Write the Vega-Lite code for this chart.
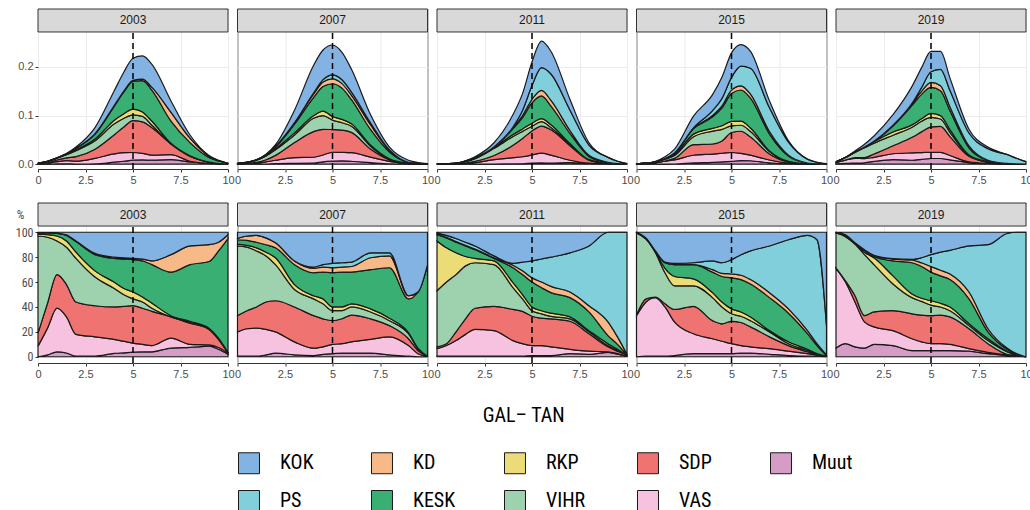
{
"$schema":"https://vega.github.io/schema/vega-lite/v6.json",
"background":"white",
"padding":{"left":14,"top":8,"right":0,"bottom":0},
"data":{"name":"dens"},
"datasets":{
"parties":[{"p":"Muut","rk":1},{"p":"VAS","rk":2},{"p":"SDP","rk":3},{"p":"VIHR","rk":4},{"p":"RKP","rk":5},{"p":"KESK","rk":6},{"p":"KD","rk":7},{"p":"PS","rk":8},{"p":"KOK","rk":9}],
"dens":[
{"yr":2003,"p":"Muut","x":0,"d":0,"s":0},{"yr":2003,"p":"Muut","x":0.5,"d":0.0001,"s":1.5},{"yr":2003,"p":"Muut","x":1,"d":0.0005,"s":4},{"yr":2003,"p":"Muut","x":1.5,"d":0.0007,"s":3},{"yr":2003,"p":"Muut","x":2,"d":0.0002,"s":0.5},{"yr":2003,"p":"Muut","x":3,"d":0.0004,"s":0.5},{"yr":2003,"p":"Muut","x":4,"d":0.004,"s":2.7},{"yr":2003,"p":"Muut","x":4.5,"d":0.006,"s":3.2},{"yr":2003,"p":"Muut","x":5,"d":0.0081,"s":3.7},{"yr":2003,"p":"Muut","x":5.5,"d":0.0087,"s":3.9},{"yr":2003,"p":"Muut","x":6,"d":0.0082,"s":4},{"yr":2003,"p":"Muut","x":7,"d":0.0091,"s":7},{"yr":2003,"p":"Muut","x":8,"d":0.0045,"s":7.5},{"yr":2003,"p":"Muut","x":9,"d":0.0015,"s":8.5},{"yr":2003,"p":"Muut","x":9.5,"d":0.0005,"s":6},{"yr":2003,"p":"Muut","x":10,"d":0,"s":2},
{"yr":2003,"p":"VAS","x":0,"d":0.0002,"s":8.5},{"yr":2003,"p":"VAS","x":0.5,"d":0.0013,"s":21.5},{"yr":2003,"p":"VAS","x":1,"d":0.0046,"s":35},{"yr":2003,"p":"VAS","x":1.5,"d":0.0064,"s":29},{"yr":2003,"p":"VAS","x":2,"d":0.0061,"s":17.5},{"yr":2003,"p":"VAS","x":3,"d":0.0116,"s":15.5},{"yr":2003,"p":"VAS","x":4,"d":0.017,"s":11.3},{"yr":2003,"p":"VAS","x":4.5,"d":0.0175,"s":9.3},{"yr":2003,"p":"VAS","x":5,"d":0.0159,"s":7.3},{"yr":2003,"p":"VAS","x":5.5,"d":0.0136,"s":6.1},{"yr":2003,"p":"VAS","x":6,"d":0.0103,"s":5},{"yr":2003,"p":"VAS","x":7,"d":0.0104,"s":8},{"yr":2003,"p":"VAS","x":8,"d":0.0015,"s":2.5},{"yr":2003,"p":"VAS","x":9,"d":0.0002,"s":1},{"yr":2003,"p":"VAS","x":9.5,"d":0.0001,"s":1.5},{"yr":2003,"p":"VAS","x":10,"d":0,"s":1},
{"yr":2003,"p":"SDP","x":0,"d":0.0002,"s":10.5},{"yr":2003,"p":"SDP","x":0.5,"d":0.0012,"s":20},{"yr":2003,"p":"SDP","x":1,"d":0.0035,"s":27},{"yr":2003,"p":"SDP","x":1.5,"d":0.0057,"s":26},{"yr":2003,"p":"SDP","x":2,"d":0.0091,"s":26},{"yr":2003,"p":"SDP","x":3,"d":0.0188,"s":25},{"yr":2003,"p":"SDP","x":4,"d":0.039,"s":26},{"yr":2003,"p":"SDP","x":4.5,"d":0.0526,"s":28},{"yr":2003,"p":"SDP","x":5,"d":0.0654,"s":30},{"yr":2003,"p":"SDP","x":5.5,"d":0.0647,"s":29},{"yr":2003,"p":"SDP","x":6,"d":0.0564,"s":27.5},{"yr":2003,"p":"SDP","x":7,"d":0.0221,"s":17},{"yr":2003,"p":"SDP","x":8,"d":0.0102,"s":17},{"yr":2003,"p":"SDP","x":9,"d":0.0023,"s":12.5},{"yr":2003,"p":"SDP","x":9.5,"d":0.0005,"s":6.5},{"yr":2003,"p":"SDP","x":10,"d":0,"s":0},
{"yr":2003,"p":"VIHR","x":0,"d":0.0016,"s":78},{"yr":2003,"p":"VIHR","x":0.5,"d":0.0032,"s":53},{"yr":2003,"p":"VIHR","x":1,"d":0.0035,"s":27},{"yr":2003,"p":"VIHR","x":1.5,"d":0.0066,"s":30},{"yr":2003,"p":"VIHR","x":2,"d":0.0123,"s":35},{"yr":2003,"p":"VIHR","x":3,"d":0.0173,"s":23},{"yr":2003,"p":"VIHR","x":4,"d":0.0225,"s":15},{"yr":2003,"p":"VIHR","x":4.5,"d":0.0179,"s":9.5},{"yr":2003,"p":"VIHR","x":5,"d":0.012,"s":5.5},{"yr":2003,"p":"VIHR","x":5.5,"d":0.0112,"s":5},{"yr":2003,"p":"VIHR","x":6,"d":0.0051,"s":2.5},{"yr":2003,"p":"VIHR","x":7,"d":0,"s":0},{"yr":2003,"p":"VIHR","x":8,"d":0.0003,"s":0.5},{"yr":2003,"p":"VIHR","x":9,"d":0.0001,"s":0.5},{"yr":2003,"p":"VIHR","x":9.5,"d":0,"s":0.5},{"yr":2003,"p":"VIHR","x":10,"d":0,"s":0},
{"yr":2003,"p":"RKP","x":0,"d":0,"s":1.5},{"yr":2003,"p":"RKP","x":0.5,"d":0.0001,"s":2},{"yr":2003,"p":"RKP","x":1,"d":0.0005,"s":4},{"yr":2003,"p":"RKP","x":1.5,"d":0.0011,"s":5},{"yr":2003,"p":"RKP","x":2,"d":0.0018,"s":5},{"yr":2003,"p":"RKP","x":3,"d":0.0038,"s":5},{"yr":2003,"p":"RKP","x":4,"d":0.0075,"s":5},{"yr":2003,"p":"RKP","x":4.5,"d":0.0094,"s":5},{"yr":2003,"p":"RKP","x":5,"d":0.012,"s":5.5},{"yr":2003,"p":"RKP","x":5.5,"d":0.0089,"s":4},{"yr":2003,"p":"RKP","x":6,"d":0.0082,"s":4},{"yr":2003,"p":"RKP","x":7,"d":0.0013,"s":1},{"yr":2003,"p":"RKP","x":8,"d":0.0006,"s":1},{"yr":2003,"p":"RKP","x":9,"d":0.0001,"s":0.5},{"yr":2003,"p":"RKP","x":9.5,"d":0,"s":0.5},{"yr":2003,"p":"RKP","x":10,"d":0,"s":0.5},
{"yr":2003,"p":"KESK","x":0,"d":0,"s":1},{"yr":2003,"p":"KESK","x":0.5,"d":0.0001,"s":1.5},{"yr":2003,"p":"KESK","x":1,"d":0.0003,"s":2},{"yr":2003,"p":"KESK","x":1.5,"d":0.001,"s":4.5},{"yr":2003,"p":"KESK","x":2,"d":0.003,"s":8.5},{"yr":2003,"p":"KESK","x":3,"d":0.0098,"s":13},{"yr":2003,"p":"KESK","x":4,"d":0.0285,"s":19},{"yr":2003,"p":"KESK","x":4.5,"d":0.0442,"s":23.5},{"yr":2003,"p":"KESK","x":5,"d":0.0567,"s":26},{"yr":2003,"p":"KESK","x":5.5,"d":0.0647,"s":29},{"yr":2003,"p":"KESK","x":6,"d":0.0636,"s":31},{"yr":2003,"p":"KESK","x":7,"d":0.0455,"s":35},{"yr":2003,"p":"KESK","x":8,"d":0.0273,"s":45.5},{"yr":2003,"p":"KESK","x":9,"d":0.0096,"s":53.5},{"yr":2003,"p":"KESK","x":9.5,"d":0.0056,"s":70},{"yr":2003,"p":"KESK","x":10,"d":0.0018,"s":91.5},
{"yr":2003,"p":"KD","x":0,"d":0,"s":0.2},{"yr":2003,"p":"KD","x":0.5,"d":0,"s":0.2},{"yr":2003,"p":"KD","x":1,"d":0,"s":0.3},{"yr":2003,"p":"KD","x":1.5,"d":0.0001,"s":0.5},{"yr":2003,"p":"KD","x":2,"d":0.0002,"s":0.5},{"yr":2003,"p":"KD","x":3,"d":0.0008,"s":1},{"yr":2003,"p":"KD","x":4,"d":0.0015,"s":1},{"yr":2003,"p":"KD","x":4.5,"d":0.0019,"s":1},{"yr":2003,"p":"KD","x":5,"d":0.0022,"s":1},{"yr":2003,"p":"KD","x":5.5,"d":0.0033,"s":1.5},{"yr":2003,"p":"KD","x":6,"d":0.0062,"s":3},{"yr":2003,"p":"KD","x":7,"d":0.0182,"s":14},{"yr":2003,"p":"KD","x":8,"d":0.009,"s":15},{"yr":2003,"p":"KD","x":9,"d":0.0024,"s":13.5},{"yr":2003,"p":"KD","x":9.5,"d":0.0006,"s":7},{"yr":2003,"p":"KD","x":10,"d":0.0001,"s":3},
{"yr":2003,"p":"KOK","x":0,"d":0,"s":0.3},{"yr":2003,"p":"KOK","x":0.5,"d":0,"s":0.3},{"yr":2003,"p":"KOK","x":1,"d":0.0001,"s":0.7},{"yr":2003,"p":"KOK","x":1.5,"d":0.0004,"s":2},{"yr":2003,"p":"KOK","x":2,"d":0.0025,"s":7},{"yr":2003,"p":"KOK","x":3,"d":0.0128,"s":17},{"yr":2003,"p":"KOK","x":4,"d":0.03,"s":20},{"yr":2003,"p":"KOK","x":4.5,"d":0.0385,"s":20.5},{"yr":2003,"p":"KOK","x":5,"d":0.0458,"s":21},{"yr":2003,"p":"KOK","x":5.5,"d":0.0479,"s":21.5},{"yr":2003,"p":"KOK","x":6,"d":0.0472,"s":23},{"yr":2003,"p":"KOK","x":7,"d":0.0234,"s":18},{"yr":2003,"p":"KOK","x":8,"d":0.0066,"s":11},{"yr":2003,"p":"KOK","x":9,"d":0.0018,"s":10},{"yr":2003,"p":"KOK","x":9.5,"d":0.0006,"s":8},{"yr":2003,"p":"KOK","x":10,"d":0,"s":2},
{"yr":2007,"p":"Muut","x":0,"d":0,"s":0.5},{"yr":2007,"p":"Muut","x":0.5,"d":0,"s":0.5},{"yr":2007,"p":"Muut","x":1,"d":0,"s":0.5},{"yr":2007,"p":"Muut","x":1.5,"d":0.0003,"s":1.5},{"yr":2007,"p":"Muut","x":2,"d":0.0012,"s":3},{"yr":2007,"p":"Muut","x":3,"d":0.0017,"s":1.5},{"yr":2007,"p":"Muut","x":4,"d":0.002,"s":1},{"yr":2007,"p":"Muut","x":4.5,"d":0.0047,"s":2},{"yr":2007,"p":"Muut","x":5,"d":0.0061,"s":2.5},{"yr":2007,"p":"Muut","x":5.5,"d":0.0069,"s":3},{"yr":2007,"p":"Muut","x":6,"d":0.0059,"s":3},{"yr":2007,"p":"Muut","x":7,"d":0.0031,"s":3},{"yr":2007,"p":"Muut","x":8,"d":0.0005,"s":1.5},{"yr":2007,"p":"Muut","x":9,"d":0,"s":0.5},{"yr":2007,"p":"Muut","x":9.5,"d":0,"s":0},{"yr":2007,"p":"Muut","x":10,"d":0,"s":0},
{"yr":2007,"p":"VAS","x":0,"d":0.0003,"s":19.5},{"yr":2007,"p":"VAS","x":0.5,"d":0.0009,"s":22},{"yr":2007,"p":"VAS","x":1,"d":0.0021,"s":22.5},{"yr":2007,"p":"VAS","x":1.5,"d":0.0042,"s":20.5},{"yr":2007,"p":"VAS","x":2,"d":0.0068,"s":17},{"yr":2007,"p":"VAS","x":3,"d":0.0117,"s":10.5},{"yr":2007,"p":"VAS","x":4,"d":0.0122,"s":6},{"yr":2007,"p":"VAS","x":4.5,"d":0.0141,"s":6},{"yr":2007,"p":"VAS","x":5,"d":0.0184,"s":7.5},{"yr":2007,"p":"VAS","x":5.5,"d":0.0173,"s":7.5},{"yr":2007,"p":"VAS","x":6,"d":0.0176,"s":9},{"yr":2007,"p":"VAS","x":7,"d":0.0112,"s":11},{"yr":2007,"p":"VAS","x":8,"d":0.0051,"s":14.5},{"yr":2007,"p":"VAS","x":9,"d":0.0007,"s":8.5},{"yr":2007,"p":"VAS","x":9.5,"d":0.0001,"s":2.5},{"yr":2007,"p":"VAS","x":10,"d":0,"s":0.5},
{"yr":2007,"p":"SDP","x":0,"d":0.0002,"s":13},{"yr":2007,"p":"SDP","x":0.5,"d":0.0006,"s":14.5},{"yr":2007,"p":"SDP","x":1,"d":0.0016,"s":17},{"yr":2007,"p":"SDP","x":1.5,"d":0.0045,"s":22},{"yr":2007,"p":"SDP","x":2,"d":0.01,"s":25},{"yr":2007,"p":"SDP","x":3,"d":0.0311,"s":28},{"yr":2007,"p":"SDP","x":4,"d":0.0528,"s":26},{"yr":2007,"p":"SDP","x":4.5,"d":0.0529,"s":22.5},{"yr":2007,"p":"SDP","x":5,"d":0.0466,"s":19},{"yr":2007,"p":"SDP","x":5.5,"d":0.046,"s":20},{"yr":2007,"p":"SDP","x":6,"d":0.0419,"s":21.5},{"yr":2007,"p":"SDP","x":7,"d":0.0168,"s":16.5},{"yr":2007,"p":"SDP","x":8,"d":0.0032,"s":9},{"yr":2007,"p":"SDP","x":9,"d":0.0004,"s":5.5},{"yr":2007,"p":"SDP","x":9.5,"d":0.0001,"s":2.5},{"yr":2007,"p":"SDP","x":10,"d":0,"s":0},
{"yr":2007,"p":"VIHR","x":0,"d":0.0008,"s":56},{"yr":2007,"p":"VIHR","x":0.5,"d":0.002,"s":51},{"yr":2007,"p":"VIHR","x":1,"d":0.0043,"s":45},{"yr":2007,"p":"VIHR","x":1.5,"d":0.0076,"s":37},{"yr":2007,"p":"VIHR","x":2,"d":0.0116,"s":29},{"yr":2007,"p":"VIHR","x":3,"d":0.0155,"s":14},{"yr":2007,"p":"VIHR","x":4,"d":0.0274,"s":13.5},{"yr":2007,"p":"VIHR","x":4.5,"d":0.0282,"s":12},{"yr":2007,"p":"VIHR","x":5,"d":0.0196,"s":8},{"yr":2007,"p":"VIHR","x":5.5,"d":0.015,"s":6.5},{"yr":2007,"p":"VIHR","x":6,"d":0.0127,"s":6.5},{"yr":2007,"p":"VIHR","x":7,"d":0.0056,"s":5.5},{"yr":2007,"p":"VIHR","x":8,"d":0.0014,"s":4},{"yr":2007,"p":"VIHR","x":9,"d":0.0003,"s":4},{"yr":2007,"p":"VIHR","x":9.5,"d":0,"s":1.5},{"yr":2007,"p":"VIHR","x":10,"d":0,"s":0},
{"yr":2007,"p":"RKP","x":0,"d":0,"s":1.5},{"yr":2007,"p":"RKP","x":0.5,"d":0.0001,"s":1.5},{"yr":2007,"p":"RKP","x":1,"d":0.0002,"s":2.5},{"yr":2007,"p":"RKP","x":1.5,"d":0.0006,"s":3},{"yr":2007,"p":"RKP","x":2,"d":0.0022,"s":5.5},{"yr":2007,"p":"RKP","x":3,"d":0.0044,"s":4},{"yr":2007,"p":"RKP","x":4,"d":0.0051,"s":2.5},{"yr":2007,"p":"RKP","x":4.5,"d":0.0094,"s":4},{"yr":2007,"p":"RKP","x":5,"d":0.0074,"s":3},{"yr":2007,"p":"RKP","x":5.5,"d":0.0069,"s":3},{"yr":2007,"p":"RKP","x":6,"d":0.0049,"s":2.5},{"yr":2007,"p":"RKP","x":7,"d":0.0026,"s":2.5},{"yr":2007,"p":"RKP","x":8,"d":0.0007,"s":2},{"yr":2007,"p":"RKP","x":9,"d":0.0001,"s":1},{"yr":2007,"p":"RKP","x":9.5,"d":0,"s":0.5},{"yr":2007,"p":"RKP","x":10,"d":0,"s":0},
{"yr":2007,"p":"KESK","x":0,"d":0.0001,"s":3.5},{"yr":2007,"p":"KESK","x":0.5,"d":0.0002,"s":4},{"yr":2007,"p":"KESK","x":1,"d":0.0004,"s":4.5},{"yr":2007,"p":"KESK","x":1.5,"d":0.0012,"s":6},{"yr":2007,"p":"KESK","x":2,"d":0.0032,"s":8},{"yr":2007,"p":"KESK","x":3,"d":0.0178,"s":16},{"yr":2007,"p":"KESK","x":4,"d":0.0376,"s":18.5},{"yr":2007,"p":"KESK","x":4.5,"d":0.0505,"s":21.5},{"yr":2007,"p":"KESK","x":5,"d":0.0674,"s":27.5},{"yr":2007,"p":"KESK","x":5.5,"d":0.0644,"s":28},{"yr":2007,"p":"KESK","x":6,"d":0.0497,"s":25.5},{"yr":2007,"p":"KESK","x":7,"d":0.0321,"s":31.5},{"yr":2007,"p":"KESK","x":8,"d":0.0142,"s":40.5},{"yr":2007,"p":"KESK","x":9,"d":0.0022,"s":27},{"yr":2007,"p":"KESK","x":9.5,"d":0.0015,"s":45},{"yr":2007,"p":"KESK","x":10,"d":0.0009,"s":73.5},
{"yr":2007,"p":"KD","x":0,"d":0,"s":1},{"yr":2007,"p":"KD","x":0.5,"d":0.0001,"s":3.5},{"yr":2007,"p":"KD","x":1,"d":0.0005,"s":5.5},{"yr":2007,"p":"KD","x":1.5,"d":0.0011,"s":5.5},{"yr":2007,"p":"KD","x":2,"d":0.0016,"s":4},{"yr":2007,"p":"KD","x":3,"d":0.0033,"s":3},{"yr":2007,"p":"KD","x":4,"d":0.0071,"s":3.5},{"yr":2007,"p":"KD","x":4.5,"d":0.0094,"s":4},{"yr":2007,"p":"KD","x":5,"d":0.0098,"s":4},{"yr":2007,"p":"KD","x":5.5,"d":0.0092,"s":4},{"yr":2007,"p":"KD","x":6,"d":0.0088,"s":4.5},{"yr":2007,"p":"KD","x":7,"d":0.0097,"s":9.5},{"yr":2007,"p":"KD","x":8,"d":0.0033,"s":9.5},{"yr":2007,"p":"KD","x":9,"d":0.0002,"s":2.5},{"yr":2007,"p":"KD","x":9.5,"d":0,"s":0},{"yr":2007,"p":"KD","x":10,"d":0,"s":0},
{"yr":2007,"p":"PS","x":0,"d":0,"s":0},{"yr":2007,"p":"PS","x":0.5,"d":0,"s":0},{"yr":2007,"p":"PS","x":1,"d":0,"s":0},{"yr":2007,"p":"PS","x":1.5,"d":0,"s":0},{"yr":2007,"p":"PS","x":2,"d":0,"s":0},{"yr":2007,"p":"PS","x":3,"d":0,"s":0},{"yr":2007,"p":"PS","x":4,"d":0.002,"s":1},{"yr":2007,"p":"PS","x":4.5,"d":0.0047,"s":2},{"yr":2007,"p":"PS","x":5,"d":0.0086,"s":3.5},{"yr":2007,"p":"PS","x":5.5,"d":0.0081,"s":3.5},{"yr":2007,"p":"PS","x":6,"d":0.0068,"s":3.5},{"yr":2007,"p":"PS","x":7,"d":0.0041,"s":4},{"yr":2007,"p":"PS","x":8,"d":0.0009,"s":2.5},{"yr":2007,"p":"PS","x":9,"d":0,"s":0},{"yr":2007,"p":"PS","x":9.5,"d":0,"s":0},{"yr":2007,"p":"PS","x":10,"d":0,"s":0},
{"yr":2007,"p":"KOK","x":0,"d":0.0001,"s":5},{"yr":2007,"p":"KOK","x":0.5,"d":0.0001,"s":3},{"yr":2007,"p":"KOK","x":1,"d":0.0002,"s":2.5},{"yr":2007,"p":"KOK","x":1.5,"d":0.0009,"s":4.5},{"yr":2007,"p":"KOK","x":2,"d":0.0034,"s":8.5},{"yr":2007,"p":"KOK","x":3,"d":0.0255,"s":23},{"yr":2007,"p":"KOK","x":4,"d":0.0568,"s":28},{"yr":2007,"p":"KOK","x":4.5,"d":0.0611,"s":26},{"yr":2007,"p":"KOK","x":5,"d":0.0613,"s":25},{"yr":2007,"p":"KOK","x":5.5,"d":0.0564,"s":24.5},{"yr":2007,"p":"KOK","x":6,"d":0.0468,"s":24},{"yr":2007,"p":"KOK","x":7,"d":0.0168,"s":16.5},{"yr":2007,"p":"KOK","x":8,"d":0.0058,"s":16.5},{"yr":2007,"p":"KOK","x":9,"d":0.0041,"s":51},{"yr":2007,"p":"KOK","x":9.5,"d":0.0016,"s":48},{"yr":2007,"p":"KOK","x":10,"d":0.0003,"s":26},
{"yr":2011,"p":"Muut","x":0,"d":0,"s":0.5},{"yr":2011,"p":"Muut","x":0.5,"d":0,"s":0.5},{"yr":2011,"p":"Muut","x":1,"d":0,"s":0.5},{"yr":2011,"p":"Muut","x":1.5,"d":0,"s":0.5},{"yr":2011,"p":"Muut","x":2,"d":0.0001,"s":0.5},{"yr":2011,"p":"Muut","x":3,"d":0.0002,"s":0.5},{"yr":2011,"p":"Muut","x":4,"d":0.0005,"s":0.5},{"yr":2011,"p":"Muut","x":4.5,"d":0.0007,"s":0.5},{"yr":2011,"p":"Muut","x":5,"d":0.0021,"s":1},{"yr":2011,"p":"Muut","x":5.5,"d":0.0025,"s":1},{"yr":2011,"p":"Muut","x":6,"d":0.0023,"s":1},{"yr":2011,"p":"Muut","x":7,"d":0.0033,"s":2.5},{"yr":2011,"p":"Muut","x":8,"d":0.0009,"s":2},{"yr":2011,"p":"Muut","x":9,"d":0.0005,"s":3.5},{"yr":2011,"p":"Muut","x":9.5,"d":0.0001,"s":2},{"yr":2011,"p":"Muut","x":10,"d":0,"s":0.5},
{"yr":2011,"p":"VAS","x":0,"d":0,"s":6},{"yr":2011,"p":"VAS","x":0.5,"d":0.0001,"s":8.5},{"yr":2011,"p":"VAS","x":1,"d":0.0003,"s":12.5},{"yr":2011,"p":"VAS","x":1.5,"d":0.0012,"s":17.5},{"yr":2011,"p":"VAS","x":2,"d":0.0032,"s":21.5},{"yr":2011,"p":"VAS","x":3,"d":0.009,"s":20.5},{"yr":2011,"p":"VAS","x":4,"d":0.0128,"s":12.5},{"yr":2011,"p":"VAS","x":4.5,"d":0.0145,"s":10},{"yr":2011,"p":"VAS","x":5,"d":0.0168,"s":8},{"yr":2011,"p":"VAS","x":5.5,"d":0.0202,"s":8},{"yr":2011,"p":"VAS","x":6,"d":0.0162,"s":7},{"yr":2011,"p":"VAS","x":7,"d":0.0047,"s":3.5},{"yr":2011,"p":"VAS","x":8,"d":0.0011,"s":2.5},{"yr":2011,"p":"VAS","x":9,"d":0.0001,"s":0.5},{"yr":2011,"p":"VAS","x":9.5,"d":0,"s":0.5},{"yr":2011,"p":"VAS","x":10,"d":0,"s":0},
{"yr":2011,"p":"SDP","x":0,"d":0,"s":1.5},{"yr":2011,"p":"SDP","x":0.5,"d":0,"s":1.5},{"yr":2011,"p":"SDP","x":1,"d":0.0001,"s":7},{"yr":2011,"p":"SDP","x":1.5,"d":0.0009,"s":12.5},{"yr":2011,"p":"SDP","x":2,"d":0.0026,"s":17},{"yr":2011,"p":"SDP","x":3,"d":0.0086,"s":19.5},{"yr":2011,"p":"SDP","x":4,"d":0.0255,"s":25},{"yr":2011,"p":"SDP","x":4.5,"d":0.0377,"s":26},{"yr":2011,"p":"SDP","x":5,"d":0.0494,"s":23.5},{"yr":2011,"p":"SDP","x":5.5,"d":0.0557,"s":22},{"yr":2011,"p":"SDP","x":6,"d":0.0522,"s":22.5},{"yr":2011,"p":"SDP","x":7,"d":0.0299,"s":22.5},{"yr":2011,"p":"SDP","x":8,"d":0.0062,"s":14},{"yr":2011,"p":"SDP","x":9,"d":0.0006,"s":4},{"yr":2011,"p":"SDP","x":9.5,"d":0.0001,"s":2},{"yr":2011,"p":"SDP","x":10,"d":0,"s":1},
{"yr":2011,"p":"VIHR","x":0,"d":0.0002,"s":45},{"yr":2011,"p":"VIHR","x":0.5,"d":0.0005,"s":49.5},{"yr":2011,"p":"VIHR","x":1,"d":0.0009,"s":46},{"yr":2011,"p":"VIHR","x":1.5,"d":0.003,"s":42.5},{"yr":2011,"p":"VIHR","x":2,"d":0.0055,"s":36.5},{"yr":2011,"p":"VIHR","x":3,"d":0.0147,"s":33.5},{"yr":2011,"p":"VIHR","x":4,"d":0.0179,"s":17.5},{"yr":2011,"p":"VIHR","x":4.5,"d":0.0145,"s":10},{"yr":2011,"p":"VIHR","x":5,"d":0.0095,"s":4.5},{"yr":2011,"p":"VIHR","x":5.5,"d":0.0089,"s":3.5},{"yr":2011,"p":"VIHR","x":6,"d":0.0046,"s":2},{"yr":2011,"p":"VIHR","x":7,"d":0.0027,"s":2},{"yr":2011,"p":"VIHR","x":8,"d":0.0007,"s":1.5},{"yr":2011,"p":"VIHR","x":9,"d":0.0001,"s":1},{"yr":2011,"p":"VIHR","x":9.5,"d":0,"s":0.5},{"yr":2011,"p":"VIHR","x":10,"d":0,"s":0},
{"yr":2011,"p":"RKP","x":0,"d":0.0002,"s":40},{"yr":2011,"p":"RKP","x":0.5,"d":0.0003,"s":27.5},{"yr":2011,"p":"RKP","x":1,"d":0.0004,"s":17.5},{"yr":2011,"p":"RKP","x":1.5,"d":0.0005,"s":7.5},{"yr":2011,"p":"RKP","x":2,"d":0.0005,"s":3.5},{"yr":2011,"p":"RKP","x":3,"d":0.0013,"s":3},{"yr":2011,"p":"RKP","x":4,"d":0.0041,"s":4},{"yr":2011,"p":"RKP","x":4.5,"d":0.0051,"s":3.5},{"yr":2011,"p":"RKP","x":5,"d":0.0063,"s":3},{"yr":2011,"p":"RKP","x":5.5,"d":0.0063,"s":2.5},{"yr":2011,"p":"RKP","x":6,"d":0.0058,"s":2.5},{"yr":2011,"p":"RKP","x":7,"d":0.002,"s":1.5},{"yr":2011,"p":"RKP","x":8,"d":0.0004,"s":1},{"yr":2011,"p":"RKP","x":9,"d":0.0002,"s":1.5},{"yr":2011,"p":"RKP","x":9.5,"d":0.0001,"s":1},{"yr":2011,"p":"RKP","x":10,"d":0,"s":0},
{"yr":2011,"p":"KESK","x":0,"d":0,"s":5},{"yr":2011,"p":"KESK","x":0.5,"d":0.0001,"s":8},{"yr":2011,"p":"KESK","x":1,"d":0.0002,"s":8.5},{"yr":2011,"p":"KESK","x":1.5,"d":0.0006,"s":8.5},{"yr":2011,"p":"KESK","x":2,"d":0.0011,"s":7},{"yr":2011,"p":"KESK","x":3,"d":0.0009,"s":2},{"yr":2011,"p":"KESK","x":4,"d":0.0122,"s":12},{"yr":2011,"p":"KESK","x":4.5,"d":0.0232,"s":16},{"yr":2011,"p":"KESK","x":5,"d":0.042,"s":20},{"yr":2011,"p":"KESK","x":5.5,"d":0.0468,"s":18.5},{"yr":2011,"p":"KESK","x":6,"d":0.0383,"s":16.5},{"yr":2011,"p":"KESK","x":7,"d":0.0206,"s":15.5},{"yr":2011,"p":"KESK","x":8,"d":0.0066,"s":15},{"yr":2011,"p":"KESK","x":9,"d":0.0009,"s":6.5},{"yr":2011,"p":"KESK","x":9.5,"d":0.0002,"s":4},{"yr":2011,"p":"KESK","x":10,"d":0,"s":0},
{"yr":2011,"p":"KD","x":0,"d":0,"s":0.5},{"yr":2011,"p":"KD","x":0.5,"d":0,"s":0.5},{"yr":2011,"p":"KD","x":1,"d":0,"s":0.5},{"yr":2011,"p":"KD","x":1.5,"d":0,"s":0.5},{"yr":2011,"p":"KD","x":2,"d":0.0001,"s":0.5},{"yr":2011,"p":"KD","x":3,"d":0.0002,"s":0.5},{"yr":2011,"p":"KD","x":4,"d":0.002,"s":2},{"yr":2011,"p":"KD","x":4.5,"d":0.0044,"s":3},{"yr":2011,"p":"KD","x":5,"d":0.0074,"s":3.5},{"yr":2011,"p":"KD","x":5.5,"d":0.0114,"s":4.5},{"yr":2011,"p":"KD","x":6,"d":0.0116,"s":5},{"yr":2011,"p":"KD","x":7,"d":0.006,"s":4.5},{"yr":2011,"p":"KD","x":8,"d":0.0022,"s":5},{"yr":2011,"p":"KD","x":9,"d":0.0015,"s":11},{"yr":2011,"p":"KD","x":9.5,"d":0.0004,"s":6},{"yr":2011,"p":"KD","x":10,"d":0,"s":0.5},
{"yr":2011,"p":"PS","x":0,"d":0,"s":1},{"yr":2011,"p":"PS","x":0.5,"d":0,"s":1.5},{"yr":2011,"p":"PS","x":1,"d":0,"s":2.5},{"yr":2011,"p":"PS","x":1.5,"d":0.0002,"s":2.5},{"yr":2011,"p":"PS","x":2,"d":0.0004,"s":2.5},{"yr":2011,"p":"PS","x":3,"d":0.0007,"s":1.5},{"yr":2011,"p":"PS","x":4,"d":0.0015,"s":1.5},{"yr":2011,"p":"PS","x":4.5,"d":0.0102,"s":7},{"yr":2011,"p":"PS","x":5,"d":0.0284,"s":13.5},{"yr":2011,"p":"PS","x":5.5,"d":0.0468,"s":18.5},{"yr":2011,"p":"PS","x":6,"d":0.0545,"s":23.5},{"yr":2011,"p":"PS","x":7,"d":0.0419,"s":31.5},{"yr":2011,"p":"PS","x":8,"d":0.0211,"s":48},{"yr":2011,"p":"PS","x":9,"d":0.0101,"s":72},{"yr":2011,"p":"PS","x":9.5,"d":0.005,"s":84},{"yr":2011,"p":"PS","x":10,"d":0.001,"s":98},
{"yr":2011,"p":"KOK","x":0,"d":0,"s":0.5},{"yr":2011,"p":"KOK","x":0.5,"d":0,"s":2.5},{"yr":2011,"p":"KOK","x":1,"d":0.0001,"s":5},{"yr":2011,"p":"KOK","x":1.5,"d":0.0006,"s":8},{"yr":2011,"p":"KOK","x":2,"d":0.0017,"s":11},{"yr":2011,"p":"KOK","x":3,"d":0.0084,"s":19},{"yr":2011,"p":"KOK","x":4,"d":0.0255,"s":25},{"yr":2011,"p":"KOK","x":4.5,"d":0.0348,"s":24},{"yr":2011,"p":"KOK","x":5,"d":0.0483,"s":23},{"yr":2011,"p":"KOK","x":5.5,"d":0.0544,"s":21.5},{"yr":2011,"p":"KOK","x":6,"d":0.0464,"s":20},{"yr":2011,"p":"KOK","x":7,"d":0.0219,"s":16.5},{"yr":2011,"p":"KOK","x":8,"d":0.0048,"s":11},{"yr":2011,"p":"KOK","x":9,"d":0,"s":0},{"yr":2011,"p":"KOK","x":9.5,"d":0,"s":0},{"yr":2011,"p":"KOK","x":10,"d":0,"s":0},
{"yr":2015,"p":"Muut","x":0,"d":0,"s":0},{"yr":2015,"p":"Muut","x":0.5,"d":0,"s":0.5},{"yr":2015,"p":"Muut","x":1,"d":0,"s":0.5},{"yr":2015,"p":"Muut","x":1.5,"d":0.0001,"s":0.5},{"yr":2015,"p":"Muut","x":2,"d":0.0003,"s":1},{"yr":2015,"p":"Muut","x":3,"d":0.0025,"s":2.5},{"yr":2015,"p":"Muut","x":4,"d":0.0036,"s":2.5},{"yr":2015,"p":"Muut","x":4.5,"d":0.0045,"s":2.5},{"yr":2015,"p":"Muut","x":5,"d":0.0057,"s":2.5},{"yr":2015,"p":"Muut","x":5.5,"d":0.0074,"s":3},{"yr":2015,"p":"Muut","x":6,"d":0.007,"s":3},{"yr":2015,"p":"Muut","x":7,"d":0.0026,"s":2},{"yr":2015,"p":"Muut","x":8,"d":0.0005,"s":1},{"yr":2015,"p":"Muut","x":9,"d":0.0001,"s":0.5},{"yr":2015,"p":"Muut","x":9.5,"d":0,"s":0.5},{"yr":2015,"p":"Muut","x":10,"d":0,"s":0},
{"yr":2015,"p":"VAS","x":0,"d":0.0002,"s":33},{"yr":2015,"p":"VAS","x":0.5,"d":0.0009,"s":43.5},{"yr":2015,"p":"VAS","x":1,"d":0.0028,"s":47},{"yr":2015,"p":"VAS","x":1.5,"d":0.0059,"s":39.5},{"yr":2015,"p":"VAS","x":2,"d":0.0084,"s":27},{"yr":2015,"p":"VAS","x":3,"d":0.0158,"s":16},{"yr":2015,"p":"VAS","x":4,"d":0.0172,"s":12},{"yr":2015,"p":"VAS","x":4.5,"d":0.0179,"s":10},{"yr":2015,"p":"VAS","x":5,"d":0.0183,"s":8},{"yr":2015,"p":"VAS","x":5.5,"d":0.0148,"s":6},{"yr":2015,"p":"VAS","x":6,"d":0.0116,"s":5},{"yr":2015,"p":"VAS","x":7,"d":0.0059,"s":4.5},{"yr":2015,"p":"VAS","x":8,"d":0.0017,"s":3.5},{"yr":2015,"p":"VAS","x":9,"d":0.0002,"s":2},{"yr":2015,"p":"VAS","x":9.5,"d":0,"s":1},{"yr":2015,"p":"VAS","x":10,"d":0,"s":0.5},
{"yr":2015,"p":"SDP","x":0,"d":0,"s":0.5},{"yr":2015,"p":"SDP","x":0.5,"d":0.0001,"s":2.5},{"yr":2015,"p":"SDP","x":1,"d":0,"s":0.5},{"yr":2015,"p":"SDP","x":1.5,"d":0.0004,"s":2.5},{"yr":2015,"p":"SDP","x":2,"d":0.0031,"s":10},{"yr":2015,"p":"SDP","x":3,"d":0.0218,"s":22},{"yr":2015,"p":"SDP","x":4,"d":0.0207,"s":14.5},{"yr":2015,"p":"SDP","x":4.5,"d":0.0251,"s":14},{"yr":2015,"p":"SDP","x":5,"d":0.0412,"s":18},{"yr":2015,"p":"SDP","x":5.5,"d":0.0455,"s":18.5},{"yr":2015,"p":"SDP","x":6,"d":0.0371,"s":16},{"yr":2015,"p":"SDP","x":7,"d":0.0124,"s":9.5},{"yr":2015,"p":"SDP","x":8,"d":0.0022,"s":4.5},{"yr":2015,"p":"SDP","x":9,"d":0.0002,"s":1.5},{"yr":2015,"p":"SDP","x":9.5,"d":0,"s":0},{"yr":2015,"p":"SDP","x":10,"d":0,"s":0},
{"yr":2015,"p":"VIHR","x":0,"d":0.0003,"s":66},{"yr":2015,"p":"VIHR","x":0.5,"d":0.001,"s":48},{"yr":2015,"p":"VIHR","x":1,"d":0.0021,"s":35.5},{"yr":2015,"p":"VIHR","x":1.5,"d":0.0038,"s":25},{"yr":2015,"p":"VIHR","x":2,"d":0.0059,"s":19},{"yr":2015,"p":"VIHR","x":3,"d":0.0163,"s":16.5},{"yr":2015,"p":"VIHR","x":4,"d":0.0265,"s":18.5},{"yr":2015,"p":"VIHR","x":4.5,"d":0.0242,"s":13.5},{"yr":2015,"p":"VIHR","x":5,"d":0.0137,"s":6},{"yr":2015,"p":"VIHR","x":5.5,"d":0.0123,"s":5},{"yr":2015,"p":"VIHR","x":6,"d":0.0116,"s":5},{"yr":2015,"p":"VIHR","x":7,"d":0.0052,"s":4},{"yr":2015,"p":"VIHR","x":8,"d":0.0007,"s":1.5},{"yr":2015,"p":"VIHR","x":9,"d":0.0001,"s":1},{"yr":2015,"p":"VIHR","x":9.5,"d":0,"s":0.5},{"yr":2015,"p":"VIHR","x":10,"d":0,"s":0},
{"yr":2015,"p":"RKP","x":0,"d":0,"s":0.2},{"yr":2015,"p":"RKP","x":0.5,"d":0,"s":0.5},{"yr":2015,"p":"RKP","x":1,"d":0,"s":0.5},{"yr":2015,"p":"RKP","x":1.5,"d":0.0005,"s":3.5},{"yr":2015,"p":"RKP","x":2,"d":0.0023,"s":7.5},{"yr":2015,"p":"RKP","x":3,"d":0.0054,"s":5.5},{"yr":2015,"p":"RKP","x":4,"d":0.0057,"s":4},{"yr":2015,"p":"RKP","x":4.5,"d":0.0072,"s":4},{"yr":2015,"p":"RKP","x":5,"d":0.0092,"s":4},{"yr":2015,"p":"RKP","x":5.5,"d":0.0086,"s":3.5},{"yr":2015,"p":"RKP","x":6,"d":0.007,"s":3},{"yr":2015,"p":"RKP","x":7,"d":0.0013,"s":1},{"yr":2015,"p":"RKP","x":8,"d":0.0007,"s":1.5},{"yr":2015,"p":"RKP","x":9,"d":0.0001,"s":1},{"yr":2015,"p":"RKP","x":9.5,"d":0,"s":0.5},{"yr":2015,"p":"RKP","x":10,"d":0,"s":0},
{"yr":2015,"p":"KESK","x":0,"d":0,"s":0.1},{"yr":2015,"p":"KESK","x":0.5,"d":0,"s":0.2},{"yr":2015,"p":"KESK","x":1,"d":0.0001,"s":1},{"yr":2015,"p":"KESK","x":1.5,"d":0.0007,"s":4.5},{"yr":2015,"p":"KESK","x":2,"d":0.0029,"s":9.5},{"yr":2015,"p":"KESK","x":3,"d":0.0114,"s":11.5},{"yr":2015,"p":"KESK","x":4,"d":0.0236,"s":16.5},{"yr":2015,"p":"KESK","x":4.5,"d":0.0367,"s":20.5},{"yr":2015,"p":"KESK","x":5,"d":0.0573,"s":25},{"yr":2015,"p":"KESK","x":5.5,"d":0.064,"s":26},{"yr":2015,"p":"KESK","x":6,"d":0.0615,"s":26.5},{"yr":2015,"p":"KESK","x":7,"d":0.0345,"s":26.5},{"yr":2015,"p":"KESK","x":8,"d":0.011,"s":23},{"yr":2015,"p":"KESK","x":9,"d":0.0013,"s":12.5},{"yr":2015,"p":"KESK","x":9.5,"d":0.0003,"s":6.5},{"yr":2015,"p":"KESK","x":10,"d":0,"s":0.5},
{"yr":2015,"p":"KD","x":0,"d":0,"s":0},{"yr":2015,"p":"KD","x":0.5,"d":0,"s":0.1},{"yr":2015,"p":"KD","x":1,"d":0,"s":0},{"yr":2015,"p":"KD","x":1.5,"d":0,"s":0},{"yr":2015,"p":"KD","x":2,"d":0,"s":0},{"yr":2015,"p":"KD","x":3,"d":0,"s":0},{"yr":2015,"p":"KD","x":4,"d":0.0029,"s":2},{"yr":2015,"p":"KD","x":4.5,"d":0.0045,"s":2.5},{"yr":2015,"p":"KD","x":5,"d":0.0069,"s":3},{"yr":2015,"p":"KD","x":5.5,"d":0.0086,"s":3.5},{"yr":2015,"p":"KD","x":6,"d":0.0081,"s":3.5},{"yr":2015,"p":"KD","x":7,"d":0.0052,"s":4},{"yr":2015,"p":"KD","x":8,"d":0.0017,"s":3.5},{"yr":2015,"p":"KD","x":9,"d":0.0003,"s":2.5},{"yr":2015,"p":"KD","x":9.5,"d":0.0001,"s":1.5},{"yr":2015,"p":"KD","x":10,"d":0,"s":0.5},
{"yr":2015,"p":"PS","x":0,"d":0,"s":0.1},{"yr":2015,"p":"PS","x":0.5,"d":0,"s":0.2},{"yr":2015,"p":"PS","x":1,"d":0,"s":0},{"yr":2015,"p":"PS","x":1.5,"d":0.0001,"s":0.5},{"yr":2015,"p":"PS","x":2,"d":0.0003,"s":1},{"yr":2015,"p":"PS","x":3,"d":0.0015,"s":1.5},{"yr":2015,"p":"PS","x":4,"d":0.01,"s":7},{"yr":2015,"p":"PS","x":4.5,"d":0.0152,"s":8.5},{"yr":2015,"p":"PS","x":5,"d":0.0263,"s":11.5},{"yr":2015,"p":"PS","x":5.5,"d":0.0406,"s":16.5},{"yr":2015,"p":"PS","x":6,"d":0.0534,"s":23},{"yr":2015,"p":"PS","x":7,"d":0.0488,"s":37.5},{"yr":2015,"p":"PS","x":8,"d":0.0266,"s":55.5},{"yr":2015,"p":"PS","x":9,"d":0.0077,"s":76.5},{"yr":2015,"p":"PS","x":9.5,"d":0.0033,"s":83.5},{"yr":2015,"p":"PS","x":10,"d":0.0002,"s":23.5},
{"yr":2015,"p":"KOK","x":0,"d":0,"s":0.1},{"yr":2015,"p":"KOK","x":0.5,"d":0.0001,"s":4.5},{"yr":2015,"p":"KOK","x":1,"d":0.0009,"s":15},{"yr":2015,"p":"KOK","x":1.5,"d":0.0036,"s":24},{"yr":2015,"p":"KOK","x":2,"d":0.0078,"s":25},{"yr":2015,"p":"KOK","x":3,"d":0.0243,"s":24.5},{"yr":2015,"p":"KOK","x":4,"d":0.0329,"s":23},{"yr":2015,"p":"KOK","x":4.5,"d":0.0439,"s":24.5},{"yr":2015,"p":"KOK","x":5,"d":0.0504,"s":22},{"yr":2015,"p":"KOK","x":5.5,"d":0.0443,"s":18},{"yr":2015,"p":"KOK","x":6,"d":0.0348,"s":15},{"yr":2015,"p":"KOK","x":7,"d":0.0143,"s":11},{"yr":2015,"p":"KOK","x":8,"d":0.0029,"s":6},{"yr":2015,"p":"KOK","x":9,"d":0.0003,"s":2.5},{"yr":2015,"p":"KOK","x":9.5,"d":0.0002,"s":6},{"yr":2015,"p":"KOK","x":10,"d":0.0008,"s":75},
{"yr":2019,"p":"Muut","x":0,"d":0.0004,"s":7},{"yr":2019,"p":"Muut","x":0.5,"d":0.0015,"s":10.5},{"yr":2019,"p":"Muut","x":1,"d":0.0022,"s":8},{"yr":2019,"p":"Muut","x":1.5,"d":0.0029,"s":7},{"yr":2019,"p":"Muut","x":2,"d":0.0058,"s":10},{"yr":2019,"p":"Muut","x":3,"d":0.0092,"s":9},{"yr":2019,"p":"Muut","x":4,"d":0.008,"s":5},{"yr":2019,"p":"Muut","x":4.5,"d":0.0099,"s":5},{"yr":2019,"p":"Muut","x":5,"d":0.0116,"s":5},{"yr":2019,"p":"Muut","x":5.5,"d":0.0116,"s":5},{"yr":2019,"p":"Muut","x":6,"d":0.0089,"s":5},{"yr":2019,"p":"Muut","x":7,"d":0.0032,"s":4.5},{"yr":2019,"p":"Muut","x":8,"d":0.0009,"s":2.5},{"yr":2019,"p":"Muut","x":9,"d":0.0002,"s":1},{"yr":2019,"p":"Muut","x":9.5,"d":0.0001,"s":0.5},{"yr":2019,"p":"Muut","x":10,"d":0,"s":0},
{"yr":2019,"p":"VAS","x":0,"d":0.0032,"s":64},{"yr":2019,"p":"VAS","x":0.5,"d":0.0069,"s":49.5},{"yr":2019,"p":"VAS","x":1,"d":0.0097,"s":36},{"yr":2019,"p":"VAS","x":1.5,"d":0.0086,"s":21},{"yr":2019,"p":"VAS","x":2,"d":0.0081,"s":14},{"yr":2019,"p":"VAS","x":3,"d":0.0122,"s":12},{"yr":2019,"p":"VAS","x":4,"d":0.0152,"s":9.5},{"yr":2019,"p":"VAS","x":4.5,"d":0.0139,"s":7},{"yr":2019,"p":"VAS","x":5,"d":0.0128,"s":5.5},{"yr":2019,"p":"VAS","x":5.5,"d":0.0128,"s":5.5},{"yr":2019,"p":"VAS","x":6,"d":0.0089,"s":5},{"yr":2019,"p":"VAS","x":7,"d":0.0014,"s":2},{"yr":2019,"p":"VAS","x":8,"d":0.0004,"s":1},{"yr":2019,"p":"VAS","x":9,"d":0.0001,"s":0.5},{"yr":2019,"p":"VAS","x":9.5,"d":0.0001,"s":0.5},{"yr":2019,"p":"VAS","x":10,"d":0,"s":0},
{"yr":2019,"p":"SDP","x":0,"d":0,"s":0.5},{"yr":2019,"p":"SDP","x":0.5,"d":0.0001,"s":1},{"yr":2019,"p":"SDP","x":1,"d":0.0014,"s":5},{"yr":2019,"p":"SDP","x":1.5,"d":0.0021,"s":5},{"yr":2019,"p":"SDP","x":2,"d":0.007,"s":12},{"yr":2019,"p":"SDP","x":3,"d":0.0163,"s":16},{"yr":2019,"p":"SDP","x":4,"d":0.032,"s":20},{"yr":2019,"p":"SDP","x":4.5,"d":0.0426,"s":21.5},{"yr":2019,"p":"SDP","x":5,"d":0.0522,"s":22.5},{"yr":2019,"p":"SDP","x":5.5,"d":0.0534,"s":23},{"yr":2019,"p":"SDP","x":6,"d":0.0389,"s":22},{"yr":2019,"p":"SDP","x":7,"d":0.0115,"s":16},{"yr":2019,"p":"SDP","x":8,"d":0.0025,"s":7},{"yr":2019,"p":"SDP","x":9,"d":0.0001,"s":0.5},{"yr":2019,"p":"SDP","x":9.5,"d":0,"s":0},{"yr":2019,"p":"SDP","x":10,"d":0,"s":0},
{"yr":2019,"p":"VIHR","x":0,"d":0.0014,"s":28},{"yr":2019,"p":"VIHR","x":0.5,"d":0.005,"s":35.5},{"yr":2019,"p":"VIHR","x":1,"d":0.0112,"s":41.5},{"yr":2019,"p":"VIHR","x":1.5,"d":0.0201,"s":49},{"yr":2019,"p":"VIHR","x":2,"d":0.022,"s":38},{"yr":2019,"p":"VIHR","x":3,"d":0.0219,"s":21.5},{"yr":2019,"p":"VIHR","x":4,"d":0.0208,"s":13},{"yr":2019,"p":"VIHR","x":4.5,"d":0.0218,"s":11},{"yr":2019,"p":"VIHR","x":5,"d":0.0197,"s":8.5},{"yr":2019,"p":"VIHR","x":5.5,"d":0.0151,"s":6.5},{"yr":2019,"p":"VIHR","x":6,"d":0.0089,"s":5},{"yr":2019,"p":"VIHR","x":7,"d":0.0018,"s":2.5},{"yr":2019,"p":"VIHR","x":8,"d":0.0009,"s":2.5},{"yr":2019,"p":"VIHR","x":9,"d":0.0004,"s":2},{"yr":2019,"p":"VIHR","x":9.5,"d":0,"s":0.2},{"yr":2019,"p":"VIHR","x":10,"d":0,"s":0},
{"yr":2019,"p":"RKP","x":0,"d":0,"s":0.2},{"yr":2019,"p":"RKP","x":0.5,"d":0.0001,"s":0.5},{"yr":2019,"p":"RKP","x":1,"d":0.0001,"s":0.5},{"yr":2019,"p":"RKP","x":1.5,"d":0.0008,"s":2},{"yr":2019,"p":"RKP","x":2,"d":0.0032,"s":5.5},{"yr":2019,"p":"RKP","x":3,"d":0.0066,"s":6.5},{"yr":2019,"p":"RKP","x":4,"d":0.0048,"s":3},{"yr":2019,"p":"RKP","x":4.5,"d":0.005,"s":2.5},{"yr":2019,"p":"RKP","x":5,"d":0.0081,"s":3.5},{"yr":2019,"p":"RKP","x":5.5,"d":0.007,"s":3},{"yr":2019,"p":"RKP","x":6,"d":0.0053,"s":3},{"yr":2019,"p":"RKP","x":7,"d":0.0011,"s":1.5},{"yr":2019,"p":"RKP","x":8,"d":0.0005,"s":1.5},{"yr":2019,"p":"RKP","x":9,"d":0.0001,"s":0.5},{"yr":2019,"p":"RKP","x":9.5,"d":0,"s":0.3},{"yr":2019,"p":"RKP","x":10,"d":0,"s":0},
{"yr":2019,"p":"KESK","x":0,"d":0,"s":0.1},{"yr":2019,"p":"KESK","x":0.5,"d":0.0001,"s":0.5},{"yr":2019,"p":"KESK","x":1,"d":0.0001,"s":0.3},{"yr":2019,"p":"KESK","x":1.5,"d":0.0006,"s":1.5},{"yr":2019,"p":"KESK","x":2,"d":0.0006,"s":1},{"yr":2019,"p":"KESK","x":3,"d":0.0122,"s":12},{"yr":2019,"p":"KESK","x":4,"d":0.04,"s":25},{"yr":2019,"p":"KESK","x":4.5,"d":0.0505,"s":25.5},{"yr":2019,"p":"KESK","x":5,"d":0.0534,"s":23},{"yr":2019,"p":"KESK","x":5.5,"d":0.051,"s":22},{"yr":2019,"p":"KESK","x":6,"d":0.0389,"s":22},{"yr":2019,"p":"KESK","x":7,"d":0.0144,"s":20},{"yr":2019,"p":"KESK","x":8,"d":0.0019,"s":5.5},{"yr":2019,"p":"KESK","x":9,"d":0.0003,"s":1.5},{"yr":2019,"p":"KESK","x":9.5,"d":0.0001,"s":0.5},{"yr":2019,"p":"KESK","x":10,"d":0,"s":0},
{"yr":2019,"p":"KD","x":0,"d":0,"s":0},{"yr":2019,"p":"KD","x":0.5,"d":0,"s":0.1},{"yr":2019,"p":"KD","x":1,"d":0,"s":0.1},{"yr":2019,"p":"KD","x":1.5,"d":0.0001,"s":0.2},{"yr":2019,"p":"KD","x":2,"d":0.0003,"s":0.5},{"yr":2019,"p":"KD","x":3,"d":0.0015,"s":1.5},{"yr":2019,"p":"KD","x":4,"d":0.0035,"s":2.2},{"yr":2019,"p":"KD","x":4.5,"d":0.0059,"s":3},{"yr":2019,"p":"KD","x":5,"d":0.0104,"s":4.5},{"yr":2019,"p":"KD","x":5.5,"d":0.0104,"s":4.5},{"yr":2019,"p":"KD","x":6,"d":0.008,"s":4.5},{"yr":2019,"p":"KD","x":7,"d":0.004,"s":5.5},{"yr":2019,"p":"KD","x":8,"d":0.0009,"s":2.5},{"yr":2019,"p":"KD","x":9,"d":0.0002,"s":1},{"yr":2019,"p":"KD","x":9.5,"d":0.0001,"s":0.5},{"yr":2019,"p":"KD","x":10,"d":0,"s":0},
{"yr":2019,"p":"PS","x":0,"d":0,"s":0.2},{"yr":2019,"p":"PS","x":0.5,"d":0.0001,"s":0.4},{"yr":2019,"p":"PS","x":1,"d":0,"s":0.1},{"yr":2019,"p":"PS","x":1.5,"d":0.0001,"s":0.3},{"yr":2019,"p":"PS","x":2,"d":0.0002,"s":0.4},{"yr":2019,"p":"PS","x":3,"d":0.0003,"s":0.3},{"yr":2019,"p":"PS","x":4,"d":0.0008,"s":0.5},{"yr":2019,"p":"PS","x":4.5,"d":0.0079,"s":4},{"yr":2019,"p":"PS","x":5,"d":0.022,"s":9.5},{"yr":2019,"p":"PS","x":5.5,"d":0.0336,"s":14.5},{"yr":2019,"p":"PS","x":6,"d":0.0336,"s":19},{"yr":2019,"p":"PS","x":7,"d":0.0266,"s":37},{"yr":2019,"p":"PS","x":8,"d":0.0236,"s":67.5},{"yr":2019,"p":"PS","x":9,"d":0.0184,"s":92},{"yr":2019,"p":"PS","x":9.5,"d":0.0117,"s":97.5},{"yr":2019,"p":"PS","x":10,"d":0.005,"s":100},
{"yr":2019,"p":"KOK","x":0,"d":0,"s":0},{"yr":2019,"p":"KOK","x":0.5,"d":0.0003,"s":2},{"yr":2019,"p":"KOK","x":1,"d":0.0023,"s":8.5},{"yr":2019,"p":"KOK","x":1.5,"d":0.0057,"s":14},{"yr":2019,"p":"KOK","x":2,"d":0.0108,"s":18.6},{"yr":2019,"p":"KOK","x":3,"d":0.0216,"s":21.2},{"yr":2019,"p":"KOK","x":4,"d":0.0349,"s":21.8},{"yr":2019,"p":"KOK","x":4.5,"d":0.0406,"s":20.5},{"yr":2019,"p":"KOK","x":5,"d":0.0418,"s":18},{"yr":2019,"p":"KOK","x":5.5,"d":0.0371,"s":16},{"yr":2019,"p":"KOK","x":6,"d":0.0257,"s":14.5},{"yr":2019,"p":"KOK","x":7,"d":0.0079,"s":11},{"yr":2019,"p":"KOK","x":8,"d":0.0035,"s":10},{"yr":2019,"p":"KOK","x":9,"d":0.0002,"s":1},{"yr":2019,"p":"KOK","x":9.5,"d":0,"s":0},{"yr":2019,"p":"KOK","x":10,"d":0,"s":0}
]},
"config":{
 "view":{"stroke":"#333333","strokeWidth":1},
 "font":"Liberation Sans",
 "axis":{"domain":false,"tickColor":"#333333","tickSize":3,"labelColor":"#4D4D4D","labelFontSize":11,"labelFont":"Liberation Sans","gridColor":"#EBEBEB","labelPadding":2,"labelOverlap":false,"labelFlush":false,"labelBound":false},
 "legend":{"orient":"none","legendX":200,"legendY":443,"direction":"horizontal","columns":5,"symbolType":"square","symbolSize":440,"symbolStrokeColor":"#1A1A1A","symbolStrokeWidth":1,"symbolOpacity":1,"labelFont":"'Roboto Condensed','DejaVu Sans Condensed','Open Sans Condensed','Liberation Sans Narrow',Roboto,sans-serif","labelFontSize":20,"labelColor":"#000000","labelOffset":20,"columnPadding":46,"rowPadding":12,"gridAlign":"all"}
},
"resolve":{"scale":{"x":"independent","y":"independent"}},
"spacing":16,
"vconcat":[
{"hconcat":[
{"width":190,"height":160,"layer":[
{"transform":[{"filter":"datum.yr==2003"},{"lookup":"p","from":{"data":{"name":"parties"},"key":"p","fields":["rk"]}}],"mark":{"type":"area","interpolate":"monotone","stroke":"#1A1A1A","strokeWidth":1.2},"encoding":{"x":{"field":"x","type":"quantitative","scale":{"domain":[0,10],"nice":false,"zero":false},"axis":{"title":null,"values":[0,2.5,5,7.5,10],"labelExpr":"''+datum.value"}},"y":{"field":"d","type":"quantitative","stack":"zero","scale":{"domain":[-0.01,0.3193],"nice":false,"zero":false},"axis":{"title":null,"values":[0,0.1,0.2],"format":".1f"}},"color":{"field":"p","type":"nominal","title":null,"scale":{"domain":["KOK","KD","RKP","SDP","Muut","PS","KESK","VIHR","VAS"],"range":["#82B3E3","#F8B988","#EBDC78","#EF7370","#D59CC6","#80CFDA","#3AAF74","#9ED2AE","#F6C2DF"]}},"order":{"field":"rk","type":"quantitative"}}},
{"data":{"values":[{}]},"mark":{"type":"rect","fill":"#D9D9D9","stroke":"#333333","strokeWidth":1},"encoding":{"x":{"datum":0,"type":"quantitative"},"x2":{"datum":10},"y":{"datum":0.272,"type":"quantitative"},"y2":{"datum":0.3193}}},
{"data":{"values":[{}]},"mark":{"type":"text","text":"2003","fontSize":12,"color":"#1A1A1A"},"encoding":{"x":{"datum":5,"type":"quantitative"},"y":{"datum":0.2957,"type":"quantitative"}}},
{"data":{"values":[{}]},"mark":{"type":"rule","strokeDash":[6,4],"strokeWidth":1.5,"color":"#000000"},"encoding":{"x":{"datum":5,"type":"quantitative"},"y":{"datum":-0.01,"type":"quantitative"},"y2":{"datum":0.272}}}
]},
{"width":190,"height":160,"layer":[
{"transform":[{"filter":"datum.yr==2007"},{"lookup":"p","from":{"data":{"name":"parties"},"key":"p","fields":["rk"]}}],"mark":{"type":"area","interpolate":"monotone","stroke":"#1A1A1A","strokeWidth":1.2},"encoding":{"x":{"field":"x","type":"quantitative","scale":{"domain":[0,10],"nice":false,"zero":false},"axis":{"title":null,"values":[0,2.5,5,7.5,10],"labelExpr":"''+datum.value"}},"y":{"field":"d","type":"quantitative","stack":"zero","scale":{"domain":[-0.01,0.3193],"nice":false,"zero":false},"axis":{"title":null,"values":[0,0.1,0.2],"labels":false,"ticks":false}},"color":{"field":"p","type":"nominal","title":null,"scale":{"domain":["KOK","KD","RKP","SDP","Muut","PS","KESK","VIHR","VAS"],"range":["#82B3E3","#F8B988","#EBDC78","#EF7370","#D59CC6","#80CFDA","#3AAF74","#9ED2AE","#F6C2DF"]}},"order":{"field":"rk","type":"quantitative"}}},
{"data":{"values":[{}]},"mark":{"type":"rect","fill":"#D9D9D9","stroke":"#333333","strokeWidth":1},"encoding":{"x":{"datum":0,"type":"quantitative"},"x2":{"datum":10},"y":{"datum":0.272,"type":"quantitative"},"y2":{"datum":0.3193}}},
{"data":{"values":[{}]},"mark":{"type":"text","text":"2007","fontSize":12,"color":"#1A1A1A"},"encoding":{"x":{"datum":5,"type":"quantitative"},"y":{"datum":0.2957,"type":"quantitative"}}},
{"data":{"values":[{}]},"mark":{"type":"rule","strokeDash":[6,4],"strokeWidth":1.5,"color":"#000000"},"encoding":{"x":{"datum":5,"type":"quantitative"},"y":{"datum":-0.01,"type":"quantitative"},"y2":{"datum":0.272}}}
]},
{"width":190,"height":160,"layer":[
{"transform":[{"filter":"datum.yr==2011"},{"lookup":"p","from":{"data":{"name":"parties"},"key":"p","fields":["rk"]}}],"mark":{"type":"area","interpolate":"monotone","stroke":"#1A1A1A","strokeWidth":1.2},"encoding":{"x":{"field":"x","type":"quantitative","scale":{"domain":[0,10],"nice":false,"zero":false},"axis":{"title":null,"values":[0,2.5,5,7.5,10],"labelExpr":"''+datum.value"}},"y":{"field":"d","type":"quantitative","stack":"zero","scale":{"domain":[-0.01,0.3193],"nice":false,"zero":false},"axis":{"title":null,"values":[0,0.1,0.2],"labels":false,"ticks":false}},"color":{"field":"p","type":"nominal","title":null,"scale":{"domain":["KOK","KD","RKP","SDP","Muut","PS","KESK","VIHR","VAS"],"range":["#82B3E3","#F8B988","#EBDC78","#EF7370","#D59CC6","#80CFDA","#3AAF74","#9ED2AE","#F6C2DF"]}},"order":{"field":"rk","type":"quantitative"}}},
{"data":{"values":[{}]},"mark":{"type":"rect","fill":"#D9D9D9","stroke":"#333333","strokeWidth":1},"encoding":{"x":{"datum":0,"type":"quantitative"},"x2":{"datum":10},"y":{"datum":0.272,"type":"quantitative"},"y2":{"datum":0.3193}}},
{"data":{"values":[{}]},"mark":{"type":"text","text":"2011","fontSize":12,"color":"#1A1A1A"},"encoding":{"x":{"datum":5,"type":"quantitative"},"y":{"datum":0.2957,"type":"quantitative"}}},
{"data":{"values":[{}]},"mark":{"type":"rule","strokeDash":[6,4],"strokeWidth":1.5,"color":"#000000"},"encoding":{"x":{"datum":5,"type":"quantitative"},"y":{"datum":-0.01,"type":"quantitative"},"y2":{"datum":0.272}}}
]},
{"width":190,"height":160,"layer":[
{"transform":[{"filter":"datum.yr==2015"},{"lookup":"p","from":{"data":{"name":"parties"},"key":"p","fields":["rk"]}}],"mark":{"type":"area","interpolate":"monotone","stroke":"#1A1A1A","strokeWidth":1.2},"encoding":{"x":{"field":"x","type":"quantitative","scale":{"domain":[0,10],"nice":false,"zero":false},"axis":{"title":null,"values":[0,2.5,5,7.5,10],"labelExpr":"''+datum.value"}},"y":{"field":"d","type":"quantitative","stack":"zero","scale":{"domain":[-0.01,0.3193],"nice":false,"zero":false},"axis":{"title":null,"values":[0,0.1,0.2],"labels":false,"ticks":false}},"color":{"field":"p","type":"nominal","title":null,"scale":{"domain":["KOK","KD","RKP","SDP","Muut","PS","KESK","VIHR","VAS"],"range":["#82B3E3","#F8B988","#EBDC78","#EF7370","#D59CC6","#80CFDA","#3AAF74","#9ED2AE","#F6C2DF"]}},"order":{"field":"rk","type":"quantitative"}}},
{"data":{"values":[{}]},"mark":{"type":"rect","fill":"#D9D9D9","stroke":"#333333","strokeWidth":1},"encoding":{"x":{"datum":0,"type":"quantitative"},"x2":{"datum":10},"y":{"datum":0.272,"type":"quantitative"},"y2":{"datum":0.3193}}},
{"data":{"values":[{}]},"mark":{"type":"text","text":"2015","fontSize":12,"color":"#1A1A1A"},"encoding":{"x":{"datum":5,"type":"quantitative"},"y":{"datum":0.2957,"type":"quantitative"}}},
{"data":{"values":[{}]},"mark":{"type":"rule","strokeDash":[6,4],"strokeWidth":1.5,"color":"#000000"},"encoding":{"x":{"datum":5,"type":"quantitative"},"y":{"datum":-0.01,"type":"quantitative"},"y2":{"datum":0.272}}}
]},
{"width":190,"height":160,"layer":[
{"transform":[{"filter":"datum.yr==2019"},{"lookup":"p","from":{"data":{"name":"parties"},"key":"p","fields":["rk"]}}],"mark":{"type":"area","interpolate":"monotone","stroke":"#1A1A1A","strokeWidth":1.2},"encoding":{"x":{"field":"x","type":"quantitative","scale":{"domain":[0,10],"nice":false,"zero":false},"axis":{"title":null,"values":[0,2.5,5,7.5,10],"labelExpr":"''+datum.value"}},"y":{"field":"d","type":"quantitative","stack":"zero","scale":{"domain":[-0.01,0.3193],"nice":false,"zero":false},"axis":{"title":null,"values":[0,0.1,0.2],"labels":false,"ticks":false}},"color":{"field":"p","type":"nominal","title":null,"scale":{"domain":["KOK","KD","RKP","SDP","Muut","PS","KESK","VIHR","VAS"],"range":["#82B3E3","#F8B988","#EBDC78","#EF7370","#D59CC6","#80CFDA","#3AAF74","#9ED2AE","#F6C2DF"]}},"order":{"field":"rk","type":"quantitative"}}},
{"data":{"values":[{}]},"mark":{"type":"rect","fill":"#D9D9D9","stroke":"#333333","strokeWidth":1},"encoding":{"x":{"datum":0,"type":"quantitative"},"x2":{"datum":10},"y":{"datum":0.272,"type":"quantitative"},"y2":{"datum":0.3193}}},
{"data":{"values":[{}]},"mark":{"type":"text","text":"2019","fontSize":12,"color":"#1A1A1A"},"encoding":{"x":{"datum":5,"type":"quantitative"},"y":{"datum":0.2957,"type":"quantitative"}}},
{"data":{"values":[{}]},"mark":{"type":"rule","strokeDash":[6,4],"strokeWidth":1.5,"color":"#000000"},"encoding":{"x":{"datum":5,"type":"quantitative"},"y":{"datum":-0.01,"type":"quantitative"},"y2":{"datum":0.272}}}
]}
],"spacing":9.5,"bounds":"flush","resolve":{"scale":{"x":"independent","y":"independent"}}},
{"title":{"text":"GAL– TAN","orient":"bottom","anchor":"middle","font":"'Roboto Condensed','DejaVu Sans Condensed','Open Sans Condensed','Liberation Sans Narrow',Roboto,sans-serif","fontSize":20,"fontWeight":"normal","color":"#000000","offset":26},
"hconcat":[
{"width":190,"height":160,"resolve":{"axis":{"y":"independent"}},"layer":[
{"transform":[{"filter":"datum.yr==2003"},{"lookup":"p","from":{"data":{"name":"parties"},"key":"p","fields":["rk"]}}],"mark":{"type":"area","interpolate":"monotone","stroke":"#1A1A1A","strokeWidth":1.2},"encoding":{"x":{"field":"x","type":"quantitative","scale":{"domain":[0,10],"nice":false,"zero":false},"axis":{"title":null,"values":[0,2.5,5,7.5,10],"labelExpr":"''+datum.value"}},"y":{"field":"s","type":"quantitative","stack":"zero","scale":{"domain":[-5,123.5],"nice":false,"zero":false},"axis":{"orient":"left","offset":0,"title":"%","titleAngle":0,"titleX":-18,"titleY":11,"titleAlign":"center","titleBaseline":"middle","titleFont":"'Roboto Condensed','DejaVu Sans Condensed',Roboto,sans-serif","titleFontSize":12,"titleFontWeight":"normal","titleColor":"#4D4D4D","labelFont":"'Roboto Condensed','DejaVu Sans Condensed',Roboto,sans-serif","labelFontSize":12,"values":[0,40,80]}},"color":{"field":"p","type":"nominal","title":null,"scale":{"domain":["KOK","KD","RKP","SDP","Muut","PS","KESK","VIHR","VAS"],"range":["#82B3E3","#F8B988","#EBDC78","#EF7370","#D59CC6","#80CFDA","#3AAF74","#9ED2AE","#F6C2DF"]}},"order":{"field":"rk","type":"quantitative"}}},
{"data":{"values":[{}]},"mark":{"type":"rect","fill":"#D9D9D9","stroke":"#333333","strokeWidth":1},"encoding":{"x":{"datum":0,"type":"quantitative"},"x2":{"datum":10},"y":{"datum":105,"type":"quantitative","axis":null},"y2":{"datum":123.5}}},
{"data":{"values":[{}]},"mark":{"type":"text","text":"2003","fontSize":12,"color":"#1A1A1A"},"encoding":{"x":{"datum":5,"type":"quantitative"},"y":{"datum":114.25,"type":"quantitative","axis":null}}},
{"data":{"values":[{}]},"mark":{"type":"rule","strokeDash":[6,4],"strokeWidth":1.5,"color":"#000000"},"encoding":{"x":{"datum":5,"type":"quantitative"},"y":{"datum":-5,"type":"quantitative","axis":{"orient":"left","offset":0,"title":null,"values":[20,60,100],"labelFont":"'Roboto Condensed','DejaVu Sans Condensed',Roboto,sans-serif","labelFontSize":12}},"y2":{"datum":105}}}
]},
{"width":190,"height":160,"layer":[
{"transform":[{"filter":"datum.yr==2007"},{"lookup":"p","from":{"data":{"name":"parties"},"key":"p","fields":["rk"]}}],"mark":{"type":"area","interpolate":"monotone","stroke":"#1A1A1A","strokeWidth":1.2},"encoding":{"x":{"field":"x","type":"quantitative","scale":{"domain":[0,10],"nice":false,"zero":false},"axis":{"title":null,"values":[0,2.5,5,7.5,10],"labelExpr":"''+datum.value"}},"y":{"field":"s","type":"quantitative","stack":"zero","scale":{"domain":[-5,123.5],"nice":false,"zero":false},"axis":{"title":null,"values":[0,20,40,60,80,100],"labels":false,"ticks":false}},"color":{"field":"p","type":"nominal","title":null,"scale":{"domain":["KOK","KD","RKP","SDP","Muut","PS","KESK","VIHR","VAS"],"range":["#82B3E3","#F8B988","#EBDC78","#EF7370","#D59CC6","#80CFDA","#3AAF74","#9ED2AE","#F6C2DF"]}},"order":{"field":"rk","type":"quantitative"}}},
{"data":{"values":[{}]},"mark":{"type":"rect","fill":"#D9D9D9","stroke":"#333333","strokeWidth":1},"encoding":{"x":{"datum":0,"type":"quantitative"},"x2":{"datum":10},"y":{"datum":105,"type":"quantitative"},"y2":{"datum":123.5}}},
{"data":{"values":[{}]},"mark":{"type":"text","text":"2007","fontSize":12,"color":"#1A1A1A"},"encoding":{"x":{"datum":5,"type":"quantitative"},"y":{"datum":114.25,"type":"quantitative"}}},
{"data":{"values":[{}]},"mark":{"type":"rule","strokeDash":[6,4],"strokeWidth":1.5,"color":"#000000"},"encoding":{"x":{"datum":5,"type":"quantitative"},"y":{"datum":-5,"type":"quantitative"},"y2":{"datum":105}}}
]},
{"width":190,"height":160,"layer":[
{"transform":[{"filter":"datum.yr==2011"},{"lookup":"p","from":{"data":{"name":"parties"},"key":"p","fields":["rk"]}}],"mark":{"type":"area","interpolate":"monotone","stroke":"#1A1A1A","strokeWidth":1.2},"encoding":{"x":{"field":"x","type":"quantitative","scale":{"domain":[0,10],"nice":false,"zero":false},"axis":{"title":null,"values":[0,2.5,5,7.5,10],"labelExpr":"''+datum.value"}},"y":{"field":"s","type":"quantitative","stack":"zero","scale":{"domain":[-5,123.5],"nice":false,"zero":false},"axis":{"title":null,"values":[0,20,40,60,80,100],"labels":false,"ticks":false}},"color":{"field":"p","type":"nominal","title":null,"scale":{"domain":["KOK","KD","RKP","SDP","Muut","PS","KESK","VIHR","VAS"],"range":["#82B3E3","#F8B988","#EBDC78","#EF7370","#D59CC6","#80CFDA","#3AAF74","#9ED2AE","#F6C2DF"]}},"order":{"field":"rk","type":"quantitative"}}},
{"data":{"values":[{}]},"mark":{"type":"rect","fill":"#D9D9D9","stroke":"#333333","strokeWidth":1},"encoding":{"x":{"datum":0,"type":"quantitative"},"x2":{"datum":10},"y":{"datum":105,"type":"quantitative"},"y2":{"datum":123.5}}},
{"data":{"values":[{}]},"mark":{"type":"text","text":"2011","fontSize":12,"color":"#1A1A1A"},"encoding":{"x":{"datum":5,"type":"quantitative"},"y":{"datum":114.25,"type":"quantitative"}}},
{"data":{"values":[{}]},"mark":{"type":"rule","strokeDash":[6,4],"strokeWidth":1.5,"color":"#000000"},"encoding":{"x":{"datum":5,"type":"quantitative"},"y":{"datum":-5,"type":"quantitative"},"y2":{"datum":105}}}
]},
{"width":190,"height":160,"layer":[
{"transform":[{"filter":"datum.yr==2015"},{"lookup":"p","from":{"data":{"name":"parties"},"key":"p","fields":["rk"]}}],"mark":{"type":"area","interpolate":"monotone","stroke":"#1A1A1A","strokeWidth":1.2},"encoding":{"x":{"field":"x","type":"quantitative","scale":{"domain":[0,10],"nice":false,"zero":false},"axis":{"title":null,"values":[0,2.5,5,7.5,10],"labelExpr":"''+datum.value"}},"y":{"field":"s","type":"quantitative","stack":"zero","scale":{"domain":[-5,123.5],"nice":false,"zero":false},"axis":{"title":null,"values":[0,20,40,60,80,100],"labels":false,"ticks":false}},"color":{"field":"p","type":"nominal","title":null,"scale":{"domain":["KOK","KD","RKP","SDP","Muut","PS","KESK","VIHR","VAS"],"range":["#82B3E3","#F8B988","#EBDC78","#EF7370","#D59CC6","#80CFDA","#3AAF74","#9ED2AE","#F6C2DF"]}},"order":{"field":"rk","type":"quantitative"}}},
{"data":{"values":[{}]},"mark":{"type":"rect","fill":"#D9D9D9","stroke":"#333333","strokeWidth":1},"encoding":{"x":{"datum":0,"type":"quantitative"},"x2":{"datum":10},"y":{"datum":105,"type":"quantitative"},"y2":{"datum":123.5}}},
{"data":{"values":[{}]},"mark":{"type":"text","text":"2015","fontSize":12,"color":"#1A1A1A"},"encoding":{"x":{"datum":5,"type":"quantitative"},"y":{"datum":114.25,"type":"quantitative"}}},
{"data":{"values":[{}]},"mark":{"type":"rule","strokeDash":[6,4],"strokeWidth":1.5,"color":"#000000"},"encoding":{"x":{"datum":5,"type":"quantitative"},"y":{"datum":-5,"type":"quantitative"},"y2":{"datum":105}}}
]},
{"width":190,"height":160,"layer":[
{"transform":[{"filter":"datum.yr==2019"},{"lookup":"p","from":{"data":{"name":"parties"},"key":"p","fields":["rk"]}}],"mark":{"type":"area","interpolate":"monotone","stroke":"#1A1A1A","strokeWidth":1.2},"encoding":{"x":{"field":"x","type":"quantitative","scale":{"domain":[0,10],"nice":false,"zero":false},"axis":{"title":null,"values":[0,2.5,5,7.5,10],"labelExpr":"''+datum.value"}},"y":{"field":"s","type":"quantitative","stack":"zero","scale":{"domain":[-5,123.5],"nice":false,"zero":false},"axis":{"title":null,"values":[0,20,40,60,80,100],"labels":false,"ticks":false}},"color":{"field":"p","type":"nominal","title":null,"scale":{"domain":["KOK","KD","RKP","SDP","Muut","PS","KESK","VIHR","VAS"],"range":["#82B3E3","#F8B988","#EBDC78","#EF7370","#D59CC6","#80CFDA","#3AAF74","#9ED2AE","#F6C2DF"]}},"order":{"field":"rk","type":"quantitative"}}},
{"data":{"values":[{}]},"mark":{"type":"rect","fill":"#D9D9D9","stroke":"#333333","strokeWidth":1},"encoding":{"x":{"datum":0,"type":"quantitative"},"x2":{"datum":10},"y":{"datum":105,"type":"quantitative"},"y2":{"datum":123.5}}},
{"data":{"values":[{}]},"mark":{"type":"text","text":"2019","fontSize":12,"color":"#1A1A1A"},"encoding":{"x":{"datum":5,"type":"quantitative"},"y":{"datum":114.25,"type":"quantitative"}}},
{"data":{"values":[{}]},"mark":{"type":"rule","strokeDash":[6,4],"strokeWidth":1.5,"color":"#000000"},"encoding":{"x":{"datum":5,"type":"quantitative"},"y":{"datum":-5,"type":"quantitative"},"y2":{"datum":105}}}
]}
],"spacing":9.5,"bounds":"flush","resolve":{"scale":{"x":"independent","y":"independent"}}}
]
}
